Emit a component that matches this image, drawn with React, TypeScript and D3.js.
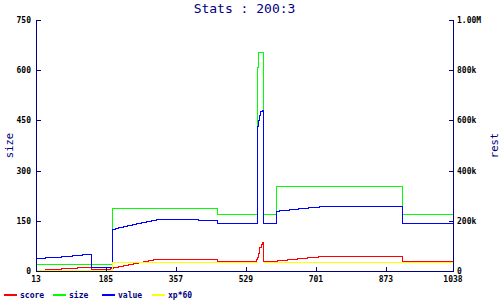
import React from 'react';
import * as d3 from 'd3';

// ---- data ----
const xTicks = [13, 185, 357, 529, 701, 873, 1038];
const leftTicks = [0, 150, 300, 450, 600, 750];
const rightTicks = [0, 200000, 400000, 600000, 800000, 1000000];
const rightTickLabels = ['0', '200k', '400k', '600k', '800k', '1.00M'];

const scoreX = [13, 35, 74, 113, 147, 195, 203, 215, 228, 240, 252, 264, 277, 289, 301, 314, 459, 554, 555, 558, 560, 562, 565, 568, 572, 605, 631, 655, 680, 707, 912, 1038];
const scoreY = [3, 5, 8, 11, 5, 8, 11, 14, 17, 20, 23, 26, 29, 32, 35, 36, 30, 36, 43, 53, 63, 73, 82, 87, 30, 33, 36, 39, 42, 45, 30, 30];

const sizeX = [13, 200, 459, 555, 558, 572, 603, 912, 1038];
const sizeY = [20, 188, 170, 610, 653, 170, 254, 170, 170];

const valueX = [13, 35, 74, 101, 125, 147, 200, 207, 215, 226, 237, 248, 259, 271, 283, 296, 308, 412, 459, 555, 558, 560, 563, 568, 571, 572, 603, 611, 636, 658, 682, 709, 912, 1038];
const valueY = [38, 41, 44, 47, 50, 13, 126, 129, 132, 135, 138, 141, 144, 147, 150, 153, 155, 152, 143, 434, 452, 467, 477, 482, 485, 143, 178, 181, 184, 187, 190, 193, 143, 143];

const xpX = [13, 200, 555, 556, 572, 1038];
const xpY = [2, 26, 26, NaN, 26, 26];

const seriesNames = ['score', 'size', 'value', 'xp*60'];
const seriesColors = ['#ff0000', '#00ff00', '#0000ff', '#ffff00'];

const W = 500;
const H = 300;
const left = 36;
const right = 453;
const top = 20;
const bottom = 271;
const navy = '#000080';
const mono = '"DejaVu Sans Mono", monospace';

const px = (v: number) => Math.round(v) + 0.5;

export default function App() {
  const x = d3.scaleLinear().domain([13, 1038]).range([left, right]);
  const yL = d3.scaleLinear().domain([0, 750]).range([bottom, top]);
  const yR = d3.scaleLinear().domain([0, 1000000]).range([bottom, top]);

  const line = d3
    .line<[number, number]>()
    .defined((d) => !isNaN(d[1]))
    .x((d) => px(x(d[0])))
    .y((d) => px(yL(d[1])))
    .curve(d3.curveStepAfter);

  const series: [number[], number[]][] = [
    [scoreX, scoreY],
    [sizeX, sizeY],
    [valueX, valueY],
    [xpX, xpY],
  ];

  const legendX = [4, 53, 102, 152];

  return (
    <svg
      width={W}
      height={H}
      style={{ position: 'absolute', left: 0, top: 0, background: '#fff' }}
    >
      <rect x={0} y={0} width={W} height={H} fill="#fff" />
      <text x={(left + right) / 2} y={13} textAnchor="middle" fontFamily={mono} fontSize={13} fill={navy}>
        Stats : 200:3
      </text>

      {series.map(([xs, ys], i) => (
        <path
          key={i}
          d={line(xs.map((v, j) => [v, ys[j]] as [number, number])) || ''}
          fill="none"
          stroke={seriesColors[i]}
          strokeWidth={1}
          shapeRendering="crispEdges"
        />
      ))}

      {/* axes */}
      <g shapeRendering="crispEdges">
        <line x1={px(left)} x2={px(left)} y1={top} y2={bottom + 1} stroke={navy} strokeWidth={1} />
        <line x1={px(right)} x2={px(right)} y1={top} y2={bottom + 1} stroke={navy} strokeWidth={1} />
        <line x1={left} x2={right + 1} y1={px(bottom)} y2={px(bottom)} stroke={navy} strokeWidth={1} />

        {leftTicks.map((t) => (
          <line key={'lt' + t} x1={left} x2={left + 5} y1={px(yL(t))} y2={px(yL(t))} stroke={navy} strokeWidth={1} />
        ))}
        {rightTicks.map((t) => (
          <line key={'rt' + t} x1={right - 4} x2={right + 1} y1={px(yR(t))} y2={px(yR(t))} stroke={navy} strokeWidth={1} />
        ))}
        {xTicks.map((t) => (
          <line key={'xt' + t} x1={px(x(t))} x2={px(x(t))} y1={bottom + 1} y2={bottom - 4} stroke={navy} strokeWidth={1} />
        ))}
      </g>

      {leftTicks.map((t) => (
        <text key={'l' + t} x={31} y={yL(t) + 3} textAnchor="end" fontFamily={mono} fontSize={8} fontWeight="bold" fill="#000">
          {t}
        </text>
      ))}
      {rightTicks.map((t, i) => (
        <text key={'r' + t} x={457} y={yR(t) + 3} textAnchor="start" fontFamily={mono} fontSize={8} fontWeight="bold" fill="#000">
          {rightTickLabels[i]}
        </text>
      ))}
      {xTicks.map((t) => (
        <text key={'x' + t} x={x(t)} y={282} textAnchor="middle" fontFamily={mono} fontSize={8} fontWeight="bold" fill="#000">
          {t}
        </text>
      ))}

      <text transform={`translate(12.5,${(top + bottom) / 2}) rotate(-90)`} textAnchor="middle" fontFamily={mono} fontSize={10.5} fill={navy}>
        size
      </text>
      <text transform={`translate(498,${(top + bottom) / 2}) rotate(-90)`} textAnchor="middle" fontFamily={mono} fontSize={10.5} fill={navy}>
        rest
      </text>

      {seriesNames.map((n, i) => (
        <g key={n}>
          <line x1={legendX[i]} x2={legendX[i] + 13} y1={295} y2={295} stroke={seriesColors[i]} strokeWidth={2} />
          <text x={legendX[i] + 16} y={298} fontFamily={mono} fontSize={8} fontWeight="bold" fill={navy}>
            {n}
          </text>
        </g>
      ))}
    </svg>
  );
}
